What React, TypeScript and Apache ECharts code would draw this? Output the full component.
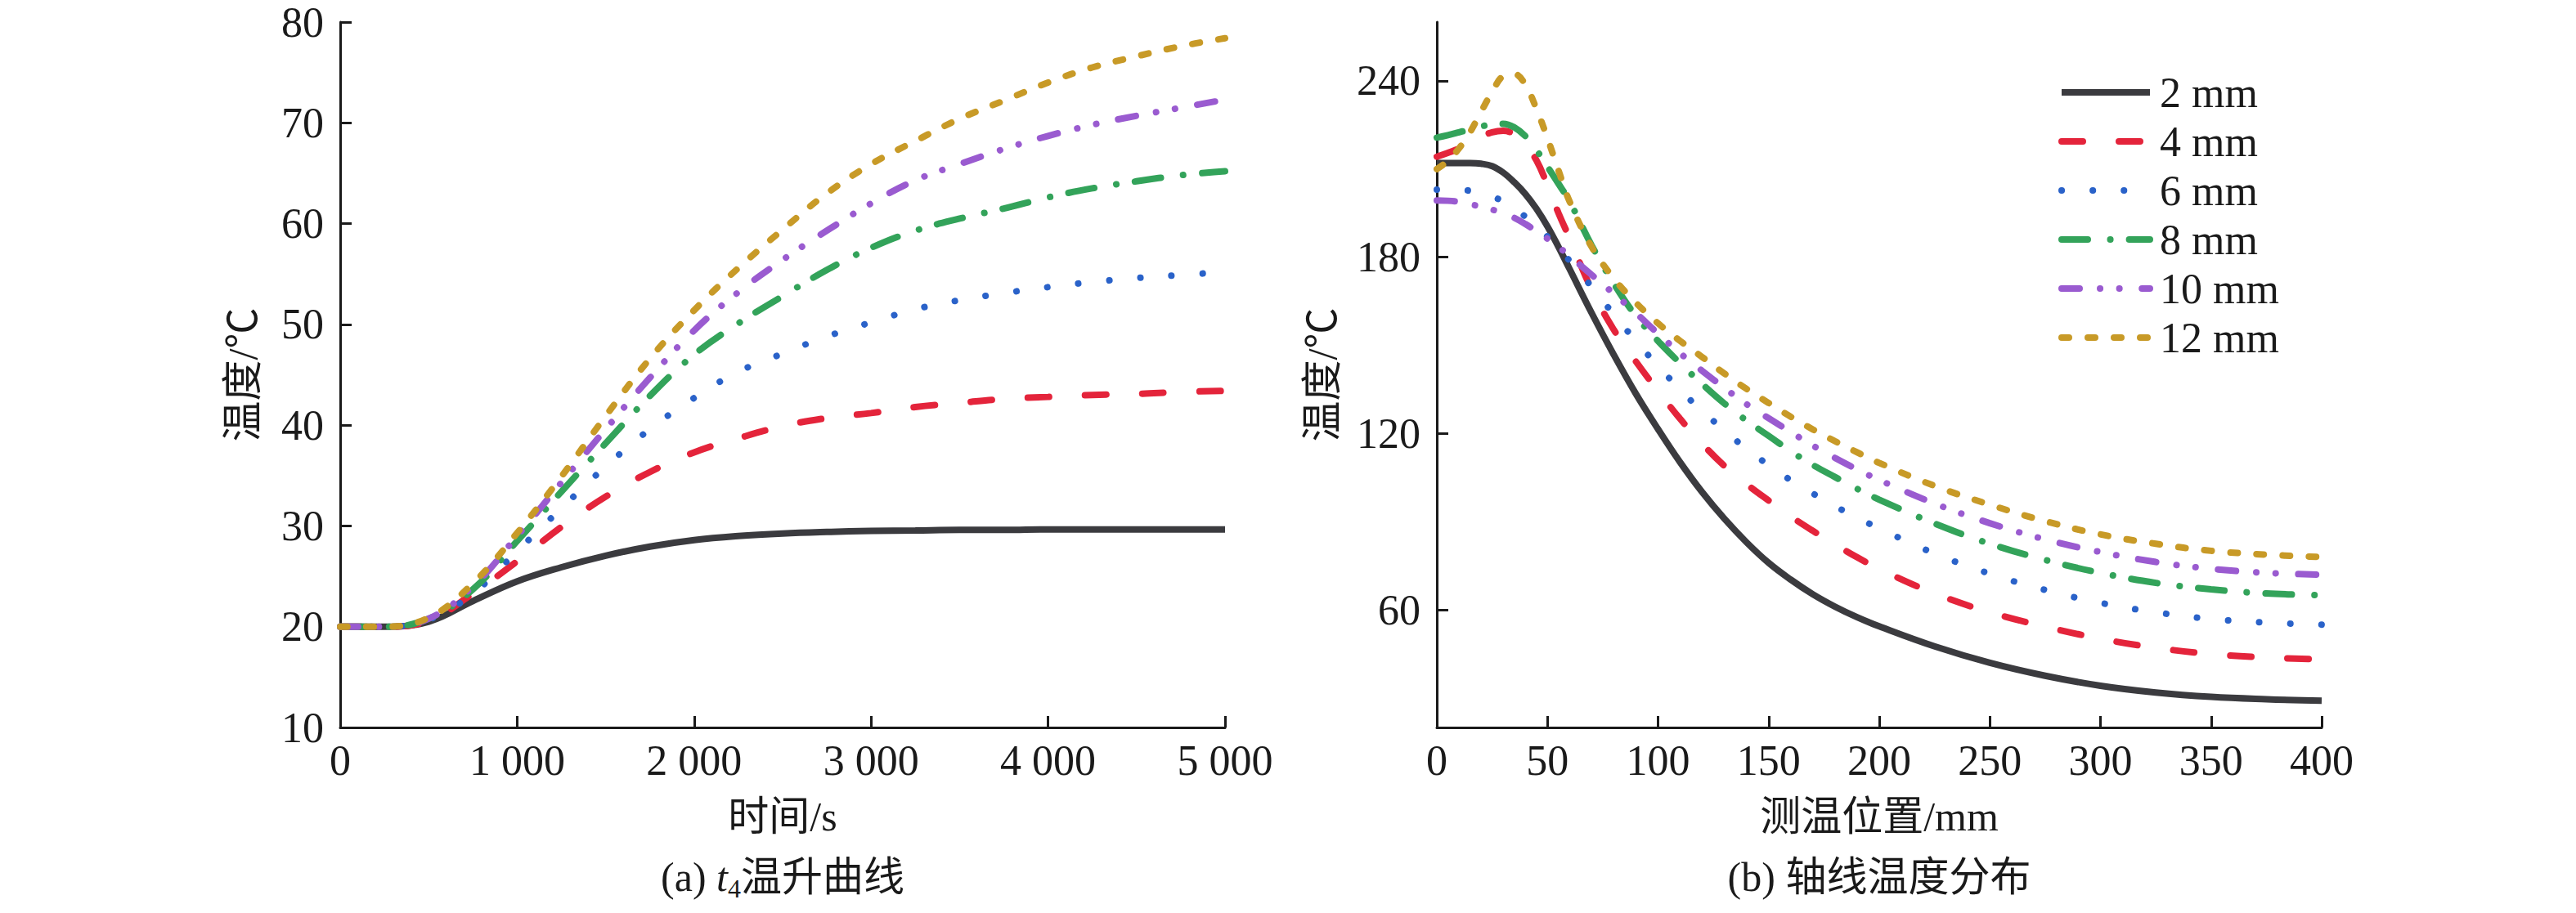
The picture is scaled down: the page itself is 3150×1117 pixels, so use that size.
import React, { useEffect, useRef } from "react";
import * as echarts from "echarts";

// ---------- data ----------
const seriesNames = ["2 mm", "4 mm", "6 mm", "8 mm", "10 mm", "12 mm"];
const lineColors = ["#3b3b3f", "#e4243b", "#2a62c9", "#33a35a", "#9a5bd0", "#c89a27"];

// (a) t4 temperature rise vs time (s)
const timeS = [0, 250, 500, 750, 1000, 1250, 1500, 1750, 2000, 2250, 2500, 2750, 3000, 3250, 3500, 3750, 4000, 4250, 4500, 4750, 5000];
const rise2 = [20, 20, 20.5, 22.55, 24.5, 25.9, 27.05, 27.95, 28.6, 29.0, 29.25, 29.4, 29.5, 29.55, 29.6, 29.6, 29.65, 29.65, 29.65, 29.65, 29.65];
const rise4 = [20, 20, 20.6, 23.3, 26.5, 29.9, 32.9, 35.35, 37.3, 38.7, 39.9, 40.7, 41.2, 41.8, 42.2, 42.6, 42.8, 43.0, 43.1, 43.3, 43.4];
const rise6 = [20, 20, 20.7, 23.3, 27.5, 31.75, 35.9, 39.6, 42.7, 45.3, 47.1, 48.8, 50.2, 51.5, 52.4, 53.1, 53.7, 54.2, 54.6, 54.9, 55.2];
const rise8 = [20, 20, 20.8, 23.7, 28.5, 33.4, 38.2, 42.9, 47.0, 50.1, 52.8, 55.4, 57.6, 59.3, 60.5, 61.5, 62.6, 63.5, 64.2, 64.8, 65.2];
const rise10 = [20, 20, 20.8, 24.0, 29.0, 34.3, 39.6, 44.7, 49.4, 53.2, 56.4, 59.3, 62.0, 64.3, 65.9, 67.4, 68.7, 69.8, 70.7, 71.5, 72.3];
const rise12 = [20, 20, 20.9, 24.3, 29.3, 34.9, 40.9, 46.6, 51.4, 55.6, 59.4, 63.0, 65.9, 68.2, 70.4, 72.2, 74.0, 75.5, 76.6, 77.6, 78.4];

// (b) axial temperature distribution vs position (mm)
const posMm = [0, 5, 10, 15, 20, 25, 30, 35, 40, 45, 50, 55, 60, 70, 80, 90, 100, 110, 120, 130, 140, 150, 160, 170, 180, 190, 200, 225, 250, 275, 300, 325, 350, 375, 400];
const axial2 = [212, 212, 212, 212, 211.8, 211, 208.8, 205.5, 201.5, 196.5, 190.5, 183.5, 176, 161, 146.8, 133.5, 121.5, 110.2, 100, 91, 83, 76, 70.3, 65.3, 61.1, 57.5, 54.4, 47.6, 42, 37.6, 34.2, 31.9, 30.4, 29.6, 29.1];
const axial4 = [214.2, 215.5, 217, 219, 221, 222.5, 223, 221.8, 218.2, 213, 204.5, 195, 186.5, 169, 155.3, 144.5, 134.5, 125, 116.5, 109, 102.8, 97.2, 91.8, 86.9, 82.3, 77.9, 73.9, 65.6, 59.2, 54.3, 50.2, 47.1, 45, 43.8, 43.2];
const axial6 = [203, 203, 202.8, 202.6, 201.8, 200.6, 199, 196.6, 193.8, 190.6, 187, 183, 178.8, 169.9, 160.5, 151.5, 143, 135, 127.5, 121.2, 114.7, 109.3, 104.1, 99.6, 95.3, 91.4, 87.7, 79.2, 72.3, 66.8, 62.4, 59.2, 56.9, 55.7, 55];
const axial8 = [220.7, 221.5, 222.5, 223.5, 224.5, 225.2, 225.4, 224.2, 221.2, 216.5, 210.8, 205, 199, 184, 171, 160, 151.5, 143.9, 136.8, 130.2, 124.4, 119.2, 114, 109.3, 105.2, 101.2, 97.5, 89.4, 82.5, 77, 72.6, 69.2, 67, 65.6, 65];
const axial10 = [199.3, 199.2, 198.8, 198, 197.2, 196.2, 195, 193.4, 191.3, 188.9, 186.3, 183.5, 180.4, 174, 167.6, 161, 154, 147.3, 141.3, 135.5, 130, 125.2, 120.5, 115.9, 111.7, 107.8, 104.2, 96.2, 89.5, 84, 79.7, 76.3, 74, 72.6, 72];
const axial12 = [210, 212.8, 217, 222.5, 229.5, 236.2, 241.6, 242.3, 238.7, 230.5, 220.5, 209.5, 199, 183.5, 172.8, 164.5, 157.5, 151.5, 146, 140.4, 135.2, 130.4, 125.7, 121.4, 117.4, 113.6, 110, 102.2, 95.8, 90.2, 85.7, 82.5, 80.1, 78.8, 78];
const axialYTicks = [60, 120, 180, 240];

const riseSeries = [rise2, rise4, rise6, rise8, rise10, rise12];
const axialSeries = [axial2, axial4, axial6, axial8, axial10, axial12];

const dashTypes: any[] = [
  "solid",
  [26, 44],
  [0.1, 38],
  [32, 27.5, 0.1, 23],
  [22, 25, 0.1, 23.5, 0.1, 27.5],
  [9, 23],
];

const SERIF = '"Liberation Serif", "Noto Sans CJK SC", serif';
const TXT = "#1a1a1a";
const LW = 8;

function fmtThousands(v: number) {
  return String(v).replace(/\B(?=(\d{3})+(?!\d))/g, " ");
}

function buildOption(): any {
  const axisLine = { show: true, lineStyle: { color: TXT, width: 3 } };
  const axisTick = { show: true, inside: true, length: 14, lineStyle: { color: TXT, width: 3 } };
  const lbl = { color: TXT, fontSize: 52, fontFamily: SERIF };
  const nameStyle = { color: TXT, fontSize: 50, fontFamily: SERIF };

  const mkSeries = (xs: number[], ys: number[], i: number, idx: number) => ({
    name: seriesNames[i],
    type: "line",
    xAxisIndex: idx,
    yAxisIndex: idx,
    data: xs.map((x, k) => [x, ys[k]]),
    symbol: "none",
    showSymbol: false,
    smooth: 0.4,
    lineStyle: {
      color: lineColors[i],
      width: LW,
      type: dashTypes[i],
      cap: i === 0 ? "butt" : "round",
    },
    itemStyle: { color: lineColors[i] },
    z: 2 + i,
  });

  return {
    animation: false,
    backgroundColor: "#ffffff",
    grid: [
      { left: 416, top: 27, width: 1082, height: 863 },
      { left: 1757, top: 27, width: 1082, height: 863 },
    ],
    xAxis: [
      {
        gridIndex: 0,
        type: "value",
        min: 0,
        max: 5000,
        interval: 1000,
        axisLine,
        axisTick,
        splitLine: { show: false },
        axisLabel: { ...lbl, margin: 14, formatter: (v: number) => fmtThousands(v) },
        name: "时间/s",
        nameLocation: "middle",
        nameGap: 84,
        nameTextStyle: nameStyle,
      },
      {
        gridIndex: 1,
        type: "value",
        min: 0,
        max: 400,
        interval: 50,
        axisLine,
        axisTick,
        splitLine: { show: false },
        axisLabel: { ...lbl, margin: 14 },
        name: "测温位置/mm",
        nameLocation: "middle",
        nameGap: 84,
        nameTextStyle: nameStyle,
      },
    ],
    yAxis: [
      {
        gridIndex: 0,
        type: "value",
        min: 10,
        max: 80,
        interval: 10,
        axisLine,
        axisTick,
        splitLine: { show: false },
        axisLabel: { ...lbl, margin: 20 },
        name: "温度/℃",
        nameLocation: "middle",
        nameGap: 94,
        nameTextStyle: nameStyle,
      },
      {
        gridIndex: 1,
        type: "value",
        min: 20,
        max: 260,
        axisLine,
        axisTick: { ...axisTick, customValues: axialYTicks },
        splitLine: { show: false },
        axisLabel: { ...lbl, margin: 20, customValues: axialYTicks },
        name: "温度/℃",
        nameLocation: "middle",
        nameGap: 115,
        nameTextStyle: nameStyle,
      },
    ],
    legend: {
      data: seriesNames,
      orient: "vertical",
      left: 2512,
      top: 82,
      itemWidth: 108,
      itemHeight: 20,
      itemGap: 8,
      selectedMode: false,
      itemStyle: { opacity: 0, borderWidth: 0 },
      lineStyle: { width: LW },
      textStyle: { color: TXT, fontSize: 52, fontFamily: SERIF, lineHeight: 50, padding: [0, 0, 0, 7] },
    },
    graphic: [
      {
        type: "text",
        x: 957,
        y: 1043,
        style: {
          text: "{n|(a) }{t|t}{s|4}{c|温升曲线}",
          align: "center",
          rich: {
            n: { fontSize: 50, fontFamily: SERIF, fill: TXT, lineHeight: 60 },
            t: { fontSize: 50, fontFamily: SERIF, fontStyle: "italic", fill: TXT, lineHeight: 60 },
            s: { fontSize: 32, fontFamily: SERIF, fill: TXT, lineHeight: 60, verticalAlign: "bottom" },
            c: { fontSize: 50, fontFamily: SERIF, fill: TXT, lineHeight: 60 },
          },
        },
      },
      {
        type: "text",
        x: 2298,
        y: 1043,
        style: {
          text: "(b) 轴线温度分布",
          align: "center",
          fontSize: 50,
          fontFamily: SERIF,
          fill: TXT,
          lineHeight: 60,
        },
      },
    ],
    series: [
      ...riseSeries.map((ys, i) => mkSeries(timeS, ys, i, 0)),
      ...axialSeries.map((ys, i) => mkSeries(posMm, ys, i, 1)),
    ],
  };
}

export default function App() {
  const ref = useRef<HTMLDivElement>(null);
  useEffect(() => {
    document.body.style.margin = "0";
    if (!ref.current) return;
    const chart = echarts.init(ref.current, undefined, { renderer: "svg" });
    chart.setOption(buildOption());
    return () => chart.dispose();
  }, []);
  return <div ref={ref} style={{ width: 3150, height: 1117, background: "#fff" }} />;
}
